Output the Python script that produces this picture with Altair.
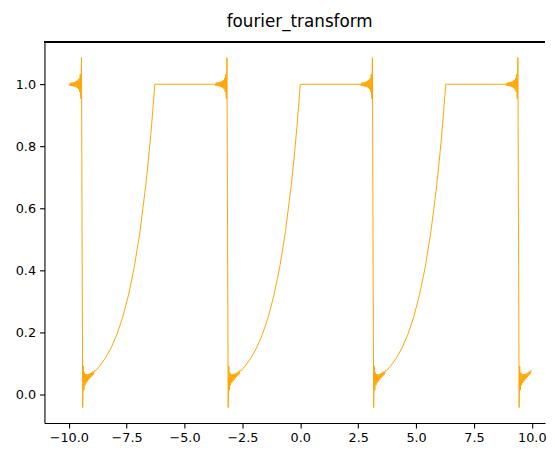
import altair as alt
import pandas as pd

# ---- values ----
title_text = "fourier_transform"
x_ticks = [-10.0, -7.5, -5.0, -2.5, 0.0, 2.5, 5.0, 7.5, 10.0]
y_ticks = [0.0, 0.2, 0.4, 0.6, 0.8, 1.0]

x_start, y_start = -10.0, 1.0
x_end, y_end = 10.0, 0.077
flat_level = 1.0
flat_gap = 0.55

# positions of the drops (from 1.0 down to the low start of the rising curve)
drops = [-9.4248, -3.1416, 3.1416, 9.4248]

# ringing next to each drop: distance from the drop and deviation
gibbs_d = [0.026, 0.052, 0.078, 0.104, 0.13, 0.156, 0.182, 0.208, 0.234, 0.26,
           0.286, 0.312, 0.338, 0.364, 0.39, 0.416, 0.442, 0.468, 0.494, 0.52]
gibbs_dev = [0.086, -0.047, 0.032, -0.024, 0.019, -0.016, 0.014, -0.012, 0.011, -0.0095,
             0.0087, -0.008, 0.0074, -0.0068, 0.0064, -0.006, 0.0056, -0.0053, 0.005, -0.0048]
low_base = [0.044, 0.045, 0.046, 0.047, 0.049, 0.050, 0.051, 0.053, 0.054, 0.056,
            0.057, 0.059, 0.060, 0.062, 0.063, 0.065, 0.067, 0.069, 0.070, 0.072]

# rising curve after each drop: distance from the drop and value
rise_offset = [0.6, 0.75, 1.0, 1.25, 1.5, 1.75, 2.0, 2.25, 2.5, 2.75, 2.9, 3.0, 3.1416]
rise_value = [0.078, 0.091, 0.117, 0.150, 0.193, 0.248, 0.319, 0.409, 0.525, 0.674, 0.783, 0.866, 1.0]

# ---- build table ----
rows = [(x_start, y_start)]
for c in drops:
    rows.append((c - flat_gap, flat_level))
    for d, v in reversed(list(zip(gibbs_d, gibbs_dev))):
        rows.append((c - d, flat_level + v))
    for d, v, b in zip(gibbs_d, gibbs_dev, low_base):
        rows.append((c + d, b - v))
    for o, r in zip(rise_offset, rise_value):
        if c + o <= x_end:
            rows.append((c + o, r))
rows.append((x_end, y_end))
df = pd.DataFrame(rows, columns=["x", "y"])
df["i"] = range(len(df))

W, H = 508, 387
font = "DejaVu Sans"

line = alt.Chart(df).mark_line(color="#FFA500", strokeWidth=1, clip=True).encode(
    x=alt.X("x:Q", scale=alt.Scale(domain=[-11.05, 10.57], nice=False, zero=False),
            axis=alt.Axis(values=x_ticks, format=".1f", title=None, grid=False,
                          labelExpr="replace(datum.label, '-', '\u2212')")),
    y=alt.Y("y:Q", scale=alt.Scale(domain=[-0.092, 1.137], nice=False, zero=False),
            axis=alt.Axis(values=y_ticks, format=".1f", title=None, grid=False)),
    order="i:Q",
)

top_spine = alt.Chart(df).mark_rule(color="black", strokeWidth=1.1).encode(
    x=alt.value(0), x2=alt.value(W), y=alt.value(0)
)

chart = alt.layer(line, top_spine).properties(
    width=W, height=H,
    title=alt.TitleParams(title_text, font=font, fontSize=17, fontWeight="normal",
                          color="black", anchor="middle", offset=10, dx=5),
    autosize=alt.AutoSizeParams(type="none"),
    padding={"left": 37, "top": 31, "right": 2, "bottom": 20},
).configure_view(strokeWidth=0).configure_axis(
    labelFont=font, labelFontSize=13, labelColor="black",
    domainColor="black", domainWidth=1.1, tickColor="black", tickWidth=1.1,
    tickSize=5, labelPadding=4,
)

chart.save("out.html", embed_options={"renderer": "svg", "actions": False})
